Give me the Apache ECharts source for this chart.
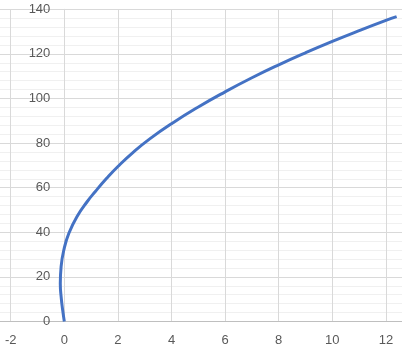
<!DOCTYPE html>
<html>
<head>
<meta charset="utf-8">
<script src="https://cdn.jsdelivr.net/npm/echarts@6/dist/echarts.min.js"></script>
<style>html,body{margin:0;padding:0;background:#fff}#c{width:402px;height:351px}</style>
</head>
<body>
<div id="c"></div>
<script>
var xValues = [0, -0.06, -0.11, -0.15, -0.12, 0, 0.17, 0.47, 0.85, 1.15, 1.58, 2.0, 2.6, 3.2, 4.0, 5.0, 6.0, 7.0, 8.0, 9.0, 10.0, 11.0, 12.0, 12.4];
var yValues = [0, 5, 10, 17, 24.6, 33, 39.6, 47, 53.7, 58.2, 64.2, 69.5, 76.2, 82.0, 88.7, 96.2, 103.0, 109.3, 115.1, 120.5, 125.6, 130.4, 135.0, 136.7];
var xTicks = [-2, 0, 2, 4, 6, 8, 10, 12];
var yTicks = [0, 20, 40, 60, 80, 100, 120, 140];

var pts = xValues.map(function (x, i) { return [x, yValues[i]]; });
var font = 'Liberation Sans';
var W = 402, xMin = -2.4, xMax = 12.6;
var chart = echarts.init(document.getElementById('c'), null, {renderer: 'canvas'});
chart.setOption({
  animation: false,
  grid: {left: 0, right: 0, top: 9.3, bottom: 29.5, containLabel: false, outerBoundsMode: 'none'},
  xAxis: {
    type: 'value', min: xMin, max: xMax,
    axisLine: {show: true, onZero: false, lineStyle: {color: '#bfbfbf', width: 1}},
    axisTick: {show: false, customValues: xTicks},
    axisLabel: {customValues: xTicks, color: '#595959', fontFamily: font, fontSize: 13, margin: 12},
    splitLine: {show: true, lineStyle: {color: '#d9d9d9', width: 1}},
    minorTick: {show: false},
    minorSplitLine: {show: false}
  },
  yAxis: {
    type: 'value', min: 0, max: 140, interval: 20, position: 'left',
    offset: -(0 - xMin) / (xMax - xMin) * W,
    axisLine: {show: true, onZero: false, lineStyle: {color: '#d9d9d9', width: 1}},
    axisTick: {show: false},
    axisLabel: {color: '#595959', fontFamily: font, fontSize: 13, margin: 14,
      formatter: function (v) { return yTicks.indexOf(v) >= 0 ? String(v) : ''; }},
    splitLine: {show: true, lineStyle: {color: '#d9d9d9', width: 1}},
    minorTick: {show: false, splitNumber: 5},
    minorSplitLine: {show: true, lineStyle: {color: '#f0f0f0', width: 1}}
  },
  series: [{
    type: 'line', data: pts, smooth: 0.5, showSymbol: false, symbol: 'none',
    lineStyle: {color: '#4472C4', width: 3}, clip: false
  }]
});
</script>
</body>
</html>
